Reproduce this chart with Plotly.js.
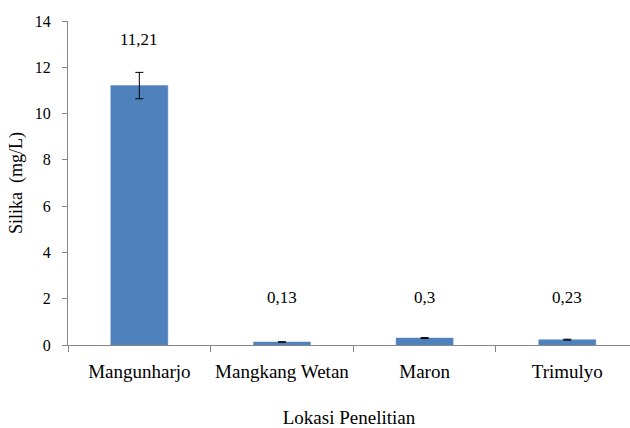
<!DOCTYPE html>
<html>
<head>
<meta charset="utf-8">
<script src="https://cdn.plot.ly/plotly-3.0.1.min.js"></script>
<style>
  html, body { margin: 0; padding: 0; background: #ffffff; }
  #chart { width: 630px; height: 428px; }
</style>
</head>
<body>
<div id="chart"></div>
<script>
// Data
var categories = ["Mangunharjo", "Mangkang Wetan", "Maron", "Trimulyo"];
var silika = [11.21, 0.13, 0.3, 0.23];
var silikaErr = [0.57, 0.01, 0.02, 0.02];
var yTicks = [0, 2, 4, 6, 8, 10, 12, 14];

var serif = "Liberation Serif";

var trace = {
  type: "bar",
  x: categories,
  y: silika,
  marker: { color: "#4F81BD", line: { color: "#5B8AC4", width: 0.5 } },
  error_y: { type: "data", array: silikaErr, visible: true, color: "#000000", thickness: 1, width: 4 },
  hoverinfo: "none"
};

var annotations = categories.map(function (c, i) {
  return {
    x: c,
    y: Math.max(silika[i] + silikaErr[i] + 1.4, 2.05),
    xref: "x",
    yref: "y",
    text: String(silika[i]).replace(".", ","),
    showarrow: false,
    font: { family: serif, size: 17, color: "#000000" },
    yanchor: "middle"
  };
});

var layout = {
  width: 630,
  height: 428,
  margin: { l: 68, r: 0, t: 21, b: 83, pad: 0 },
  paper_bgcolor: "#ffffff",
  plot_bgcolor: "#ffffff",
  font: { family: serif, color: "#000000" },
  bargap: 0.6,
  showlegend: false,
  xaxis: {
    type: "category",
    range: [-0.5, 3.44],
    showline: true,
    linecolor: "#868686",
    linewidth: 1,
    ticks: "outside",
    tickson: "boundaries",
    ticklen: 6,
    tickcolor: "#868686",
    tickangle: 0,
    showgrid: false,
    zeroline: false,
    ticklabelstandoff: 9,
    tickfont: { family: serif, size: 19, color: "#000000" },
    title: { text: "Lokasi Penelitian", font: { family: serif, size: 19, color: "#000000" }, standoff: 31 },
    automargin: false
  },
  yaxis: {
    range: [0, 14],
    tickvals: yTicks,
    ticktext: yTicks.map(String),
    showline: true,
    linecolor: "#868686",
    linewidth: 1,
    ticks: "outside",
    ticklen: 5,
    tickcolor: "#868686",
    showgrid: false,
    zeroline: false,
    ticklabelstandoff: 8,
    tickfont: { family: serif, size: 16, color: "#000000" },
    title: { text: "Silika  (mg/L)", font: { family: serif, size: 18, color: "#000000" } },
    automargin: false
  },
  annotations: annotations
};

Plotly.newPlot("chart", [trace], layout, { displayModeBar: false, staticPlot: true });
</script>
</body>
</html>
